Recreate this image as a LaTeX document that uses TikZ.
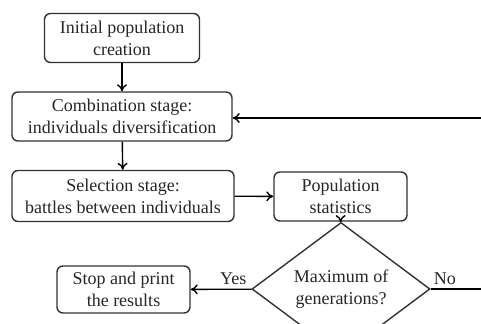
\documentclass[tikz,border=0pt]{standalone}
\usepackage{fontspec}
\setmainfont{Liberation Serif}
\usetikzlibrary{shapes, arrows, calc, arrows.meta, positioning}
\tikzset{
    -{To[length=3.5pt,width=5pt]}, thick, draw=black!80, % all connectors end with a small open tip
    stage/.style = {rectangle, rounded corners=3pt, draw=black!80, line width=0.7pt, align=center, inner sep=1pt, minimum height=24.5pt}, % boxes of the flow
    test/.style = {diamond, draw=black!80, line width=0.7pt, align=center, inner sep=0pt, minimum width=89pt, minimum height=40pt}, % the decision
    el/.style = {inner sep=2pt, text=black!85}
}

\begin{document}
\begin{tikzpicture}[x=0.5pt, y=-0.5pt, font=\fontsize{9}{11}\selectfont, text=black!85, line width=0.7pt]
\useasboundingbox (0,0) rectangle (481,324);
\node[stage, minimum width=77.5pt] (1) at (122,38) {Initial population\\creation};
\node[stage, minimum width=110pt] (2) at (122,116.5) {Combination stage:\\individuals diversification};
\node[stage, minimum width=111pt, minimum height=25.5pt] (3) at (123,196) {Selection stage:\\battles between individuals};
\node[stage, minimum width=66.5pt] (4) at (340.5,196.5) {Population\\statistics};
\node[test] (5) at (341,289) {Maximum of\\generations?};
\node[stage, minimum width=66.5pt, minimum height=23.5pt] (6) at (123.5,289.5) {Stop and print\\the results};
\coordinate (r1) at (481,289);
\coordinate (r2) at (481,118);

\draw (1) -- (2);
\draw (2) -- (3);
\draw (3) -- (4);
\draw (4) -- (5);
\draw (5) -- node[el, above, pos=0.3] {Yes} (6);
\draw[-] (5) -- node[el, above, pos=0.28] {No} (r1);
\draw (r2) -- (2.east |- r2);
\end{tikzpicture}
\end{document}
